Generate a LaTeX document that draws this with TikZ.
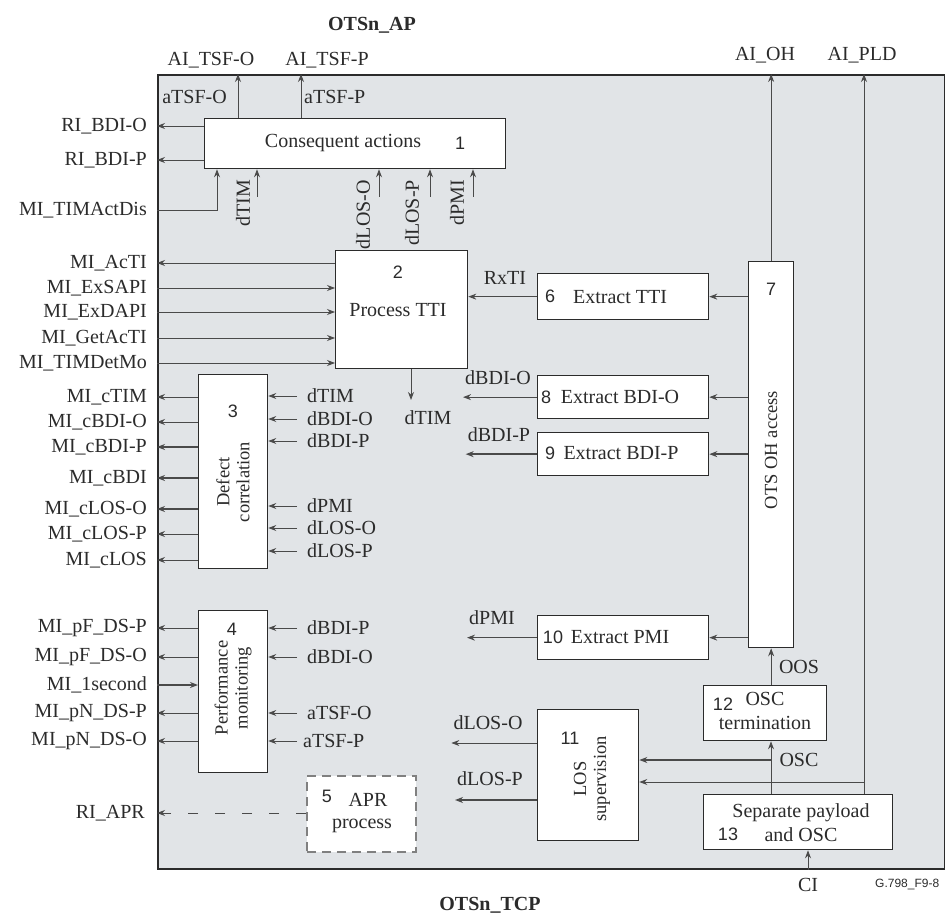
\documentclass[tikz,border=0pt]{standalone}
\usepackage{fontspec}
\setmainfont{Liberation Serif}
\newfontfamily\numfont{Liberation Sans}
\usetikzlibrary{arrows.meta,positioning}
\definecolor{framegray}{HTML}{E1E4E7}
\definecolor{ink}{HTML}{2B2B2B}
\definecolor{wire}{HTML}{4A4A4A}

\begin{document}
\begin{tikzpicture}[
    x=1pt, y=-1pt,
    font=\fontsize{20}{22}\selectfont,
    text=ink,
    blk/.style={draw=ink, line width=1.3pt, fill=white, inner sep=0pt, anchor=north west},
    arr/.style={-{Stealth[length=8pt,width=6pt]}, wire, line width=0.9pt},
    thk/.style={line width=1.6pt},
    lbl/.style={inner sep=2pt},
    outl/.style={inner sep=2pt, anchor=east},
    inl/.style={inner sep=2pt, anchor=west},
    vlbl/.style={rotate=90, font=\fontsize{18.5}{20}\selectfont, align=center, inner sep=1pt},
    num/.style={font=\numfont\fontsize{18}{20}\selectfont, inner sep=0pt}
]
\useasboundingbox (0,0) rectangle (945,917);

% Frame of the function
\node[draw=ink, line width=1.6pt, fill=framegray, minimum width=787pt, minimum height=794pt,
      inner sep=0pt, anchor=north west] (frame) at (157,74) {};
\node[font=\bfseries\fontsize{20}{22}\selectfont] (ap) at (372,25) {OTSn\_AP};
\node[font=\bfseries\fontsize{20}{22}\selectfont] (tcp) at (490,905) {OTSn\_TCP};

% Blocks
\node[blk, minimum width=301pt, minimum height=50pt] (cons) at (204,118) {};
\node[blk, minimum width=132pt, minimum height=118pt] (tti) at (335,250) {};
\node[blk, minimum width=69pt, minimum height=194pt] (dc) at (198,374) {};
\node[blk, minimum width=69pt, minimum height=162pt] (pm) at (198,610) {};
\node[blk, draw=gray, line width=1.6pt, dash pattern=on 9pt off 6pt, minimum width=109pt, minimum height=76pt] (apr) at (306,775) {};
\node[blk, minimum width=171pt, minimum height=46pt] (xtti) at (537,273) {};
\node[blk, minimum width=45pt, minimum height=386pt] (oh) at (748,261) {};
\node[blk, minimum width=171pt, minimum height=43pt] (xbdio) at (537,375) {};
\node[blk, minimum width=171pt, minimum height=43pt] (xbdip) at (537,432) {};
\node[blk, minimum width=171pt, minimum height=44pt] (xpmi) at (537,615) {};
\node[blk, minimum width=101pt, minimum height=131pt] (los) at (537,709) {};
\node[blk, minimum width=123pt, minimum height=55pt] (osct) at (703,685) {};
\node[blk, minimum width=189pt, minimum height=55pt] (sep) at (703,794) {};

% Block texts
\node[lbl] at (343,143) {Consequent actions};
\node[num] at (460,143) {1};
\node[num] at (398,272) {2};
\node[lbl] at (398,310) {Process TTI};
\node[num] at (233,411) {3};
\node[vlbl] at (233,482) {Defect\\correlation};
\node[num] at (232,629) {4};
\node[vlbl] at (233,688) {Performance\\monitoring};
\node[num] at (327,796) {5};
\node[lbl, align=center] at (362,813) {\hspace*{0.6em}APR\\process};
\node[num] at (550,296) {6};
\node[lbl] at (620,297) {Extract TTI};
\node[num] at (771,289) {7};
\node[vlbl] at (771,450) {OTS OH access};
\node[num] at (546,397) {8};
\node[lbl] at (620,397) {Extract BDI-O};
\node[num] at (550,453) {9};
\node[lbl] at (621,453) {Extract BDI-P};
\node[num] at (553,637) {10};
\node[lbl] at (620,637) {Extract PMI};
\node[num] at (570,738) {11};
\node[vlbl] at (592,779) {LOS\\supervision};
\node[num] at (723,704) {12};
\node[lbl] at (765,699) {OSC};
\node[lbl] at (765,723) {termination};
\node[lbl] at (801,813) {Separate payload};
\node[num] at (728,834) {13};
\node[lbl] at (801,835) {and OSC};

% Top outputs
\node[lbl] (aiTsfO) at (211,60) {AI\_TSF-O};
\node[lbl] (aiTsfP) at (327,60) {AI\_TSF-P};
\node[lbl] (aiOh) at (765,55) {AI\_OH};
\node[lbl] (aiPld) at (862,55) {AI\_PLD};
\coordinate (tsfO) at (238,97);
\coordinate (tsfP) at (301,97);
\node[outl] at ([xshift=-9pt]tsfO) {aTSF-O};
\node[inl] at ([xshift=1pt]tsfP) {aTSF-P};
\draw[arr] (cons.north -| tsfO) -- (frame.north -| tsfO);
\draw[arr] (cons.north -| tsfP) -- (frame.north -| tsfP);
\draw[arr] (oh.north) -- (frame.north -| oh.north);

% Inputs below consequent actions
\node[vlbl, anchor=east, font=\fontsize{20}{22}\selectfont] (cTim) at (243,179) {dTIM};
\node[vlbl, anchor=east, font=\fontsize{20}{22}\selectfont] (cLosO) at (363,179) {dLOS-O};
\node[vlbl, anchor=east, font=\fontsize{20}{22}\selectfont] (cLosP) at (412,179) {dLOS-P};
\node[vlbl, anchor=east, font=\fontsize{20}{22}\selectfont] (cPmi) at (457,179) {dPMI};
\foreach \xa in {257,379,430,473} {
  \coordinate (up) at (\xa,197);
  \draw[arr] (up) -- (up |- cons.south);
}

% Left side signals
\node[outl] (riBdiO) at (149,126) {RI\_BDI-O};
\node[outl] (riBdiP) at (149,160) {RI\_BDI-P};
\node[outl] (timAct) at (149,210) {MI\_TIMActDis};
\node[outl] (acTi) at (149,263) {MI\_AcTI};
\node[outl] (exSapi) at (149,288) {MI\_ExSAPI};
\node[outl] (exDapi) at (149,312) {MI\_ExDAPI};
\node[outl] (getAcTi) at (149,338) {MI\_GetAcTI};
\node[outl] (timDet) at (149,363) {MI\_TIMDetMo};
\node[outl] (cTimO) at (149,397) {MI\_cTIM};
\node[outl] (cBdiO) at (149,422) {MI\_cBDI-O};
\node[outl] (cBdiP) at (149,447) {MI\_cBDI-P};
\node[outl] (cBdi) at (149,478) {MI\_cBDI};
\node[outl] (cLosOo) at (149,509) {MI\_cLOS-O};
\node[outl] (cLosPo) at (149,534) {MI\_cLOS-P};
\node[outl] (cLos) at (149,560) {MI\_cLOS};
\node[outl] (pFP) at (149,628) {MI\_pF\_DS-P};
\node[outl] (pFO) at (149,657) {MI\_pF\_DS-O};
\node[outl] (oneSec) at (149,685) {MI\_1second};
\node[outl] (pNP) at (149,713) {MI\_pN\_DS-P};
\node[outl] (pNO) at (149,741) {MI\_pN\_DS-O};
\node[outl] (riApr) at (147,813) {RI\_APR};

\draw[arr] (cons.west |- riBdiO) -- (frame.west |- riBdiO);
\draw[arr] (cons.west |- riBdiP) -- (frame.west |- riBdiP);
\draw[arr] (frame.west |- timAct) -| ([xshift=13pt]cons.south west);
\draw[arr] (tti.west |- acTi) -- (frame.west |- acTi);
\foreach \n in {exSapi,exDapi,getAcTi,timDet}
  \draw[arr] (frame.west |- \n) -- (tti.west |- \n);
\foreach \n in {cTimO,cBdiO,cLosPo,cLos}
  \draw[arr] (dc.west |- \n) -- (frame.west |- \n);
\foreach \n in {cBdiP,cBdi,cLosOo}
  \draw[arr, thk] (dc.west |- \n) -- (frame.west |- \n);
\foreach \n in {pFP,pFO,pNP,pNO}
  \draw[arr] (pm.west |- \n) -- (frame.west |- \n);
\draw[arr, thk] (frame.west |- oneSec) -- (pm.west |- oneSec);
\draw[arr, dash pattern=on 10pt off 17pt] (apr.west |- riApr) -- (frame.west |- riApr);

% Inputs of defect correlation and performance monitoring
\node[inl] (dcTim) at (305,396) {dTIM};
\node[inl] (dcBdiO) at (305,419) {dBDI-O};
\node[inl] (dcBdiP) at (305,441) {dBDI-P};
\node[inl] (dcPmi) at (305,506) {dPMI};
\node[inl] (dcLosO) at (305,528) {dLOS-O};
\node[inl] (dcLosP) at (305,551) {dLOS-P};
\foreach \n in {dcTim,dcBdiO,dcBdiP,dcPmi,dcLosO,dcLosP}
  \draw[arr] ([xshift=-8pt]\n.west) -- (dc.east |- \n.west);
\node[inl] (pmBdiP) at (305,628) {dBDI-P};
\node[inl] (pmBdiO) at (305,657) {dBDI-O};
\node[inl] (pmTsfO) at (305,713) {aTSF-O};
\node[inl] (pmTsfP) at (301,741) {aTSF-P};
\foreach \n in {pmBdiP,pmBdiO,pmTsfO}
  \draw[arr] ([xshift=-8pt]\n.west) -- (pm.east |- \n.west);
\draw[arr] ([xshift=-4pt]pmTsfP.west) -- (pm.east |- pmTsfP.west);

% Process TTI output and extracted signals
\draw[arr] (tti.south -| 411,0) -- (411,400);
\node[lbl] (ttiTim) at (428,418) {dTIM};
\node[lbl] (rxTi) at (505,278) {RxTI};
\draw[arr] (xtti.west) -- (tti.east |- xtti.west);
\node[lbl] (xBdiO) at (498,378) {dBDI-O};
\draw[arr] (xbdio.west) -- (xbdio.west -| xBdiO.west);
\node[lbl] (xBdiP) at (499,435) {dBDI-P};
\draw[arr, thk] (xbdip.west) -- (xbdip.west -| xBdiP.west);
\node[lbl] (xPmi) at (492,618) {dPMI};
\draw[arr] (xpmi.west) -- (xpmi.west -| xPmi.west);
\node[lbl] (xLosO) at (488,723) {dLOS-O};
\draw[arr] (los.west |- 0,743) -- (xLosO.west |- 0,743);
\node[lbl] (xLosP) at (490,779) {dLOS-P};
\draw[arr, thk] (los.west |- 0,800) -- (xLosP.west |- 0,800);

% OTS OH access to extractors
\draw[arr] (oh.west |- xtti.east) -- (xtti.east);
\draw[arr] (oh.west |- xbdio.east) -- (xbdio.east);
\draw[arr, thk] (oh.west |- xbdip.east) -- (xbdip.east);
\draw[arr] (oh.west |- xpmi.east) -- (xpmi.east);

% OSC and payload paths
\node[lbl] (oos) at (799,667) {OOS};
\draw[arr] (osct.north -| oh.south) -- (oh.south);
\coordinate (oscJ) at (771,760);
\node[lbl] (osc) at (799,760) {OSC};
\draw[arr] (sep.north -| oscJ) -- (osct.south -| oscJ);
\draw[arr, thk] (oscJ) -- (los.east |- oscJ);
\coordinate (pldJ) at (864,782);
\draw[arr] (sep.north -| pldJ) -- (frame.north -| pldJ);
\draw[arr] (pldJ) -- (los.east |- pldJ);
\node[lbl] (ci) at (808,885) {CI};
\draw[arr] (frame.south -| ci) -- (sep.south -| ci);
\node[lbl, anchor=west, font=\numfont\fontsize{12}{13}\selectfont] (fig) at (873,884) {G.798\_F9-8};

\end{tikzpicture}
\end{document}
